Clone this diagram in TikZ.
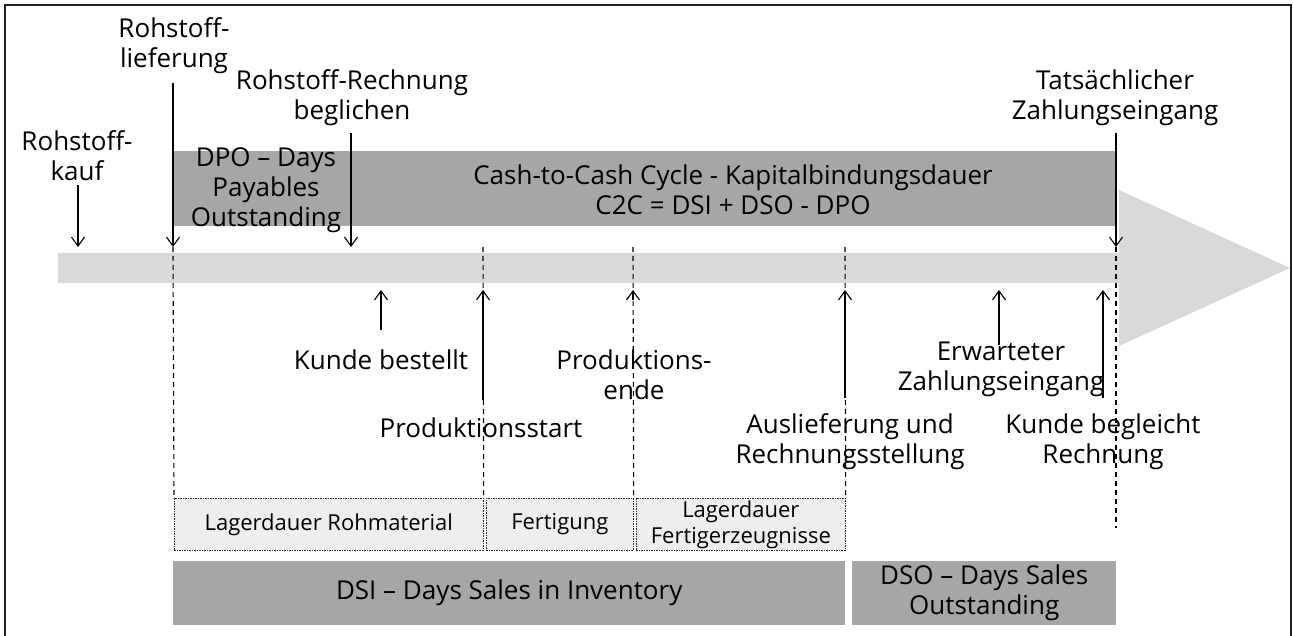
\documentclass[tikz,border=0pt]{standalone}
\usepackage{fontspec}
\setmainfont{Open Sans}
\usetikzlibrary{arrows.meta}

\definecolor{bardark}{HTML}{A6A6A6}
\definecolor{barlight}{HTML}{D9D9D9}
\definecolor{boxfill}{HTML}{EDEFEE}
\definecolor{framecol}{HTML}{222222}

\tikzset{
  lbl/.style={align=center, font=\fontsize{26}{30}\selectfont, inner sep=0pt},
  evt/.style={-{Straight Barb[length=9pt,width=13pt]}, line width=1.1pt},
  guide/.style={dash pattern=on 5pt off 4pt, line width=1.1pt},
  phase/.style={fill=boxfill, draw=black!85, dash pattern=on 1.5pt off 1pt,
    line width=0.7pt, font=\fontsize{22}{26}\selectfont, align=center,
    anchor=north west, inner sep=0pt},
  kpibar/.style={fill=bardark, draw=none, anchor=north west, inner sep=0pt,
    align=center, font=\fontsize{26}{30}\selectfont},
}

\begin{document}
\begin{tikzpicture}[x=1pt,y=-1pt]
\useasboundingbox (0,0) rectangle (1293,636);

% outer frame (open at the bottom edge)
\draw[framecol, line width=2pt] (5,640) -- (5,5) -- (1291,5) -- (1291,640);

% time axis as a broad arrow
\fill[barlight] (58,253) -- (1119,253) -- (1119,190) -- (1290,268)
  -- (1119,346) -- (1119,283) -- (58,283) -- cycle;

% cash-to-cash bar
\node[kpibar, minimum width=943pt, minimum height=75pt] (c2c) at (173,151) {};
\node[lbl] (c2ctext) at (733,190) {Cash-to-Cash Cycle - Kapitalbindungsdauer\\C2C = DSI + DSO - DPO};
\node[lbl] (dpo) at (266,190) {DPO -- Days\\Payables\\Outstanding};

% event points on the axis
\coordinate (pKauf) at (78,247);
\coordinate (pLief) at (173,247);
\coordinate (pBegl) at (351,247);
\coordinate (pTats) at (1116,247);
\coordinate (pBest) at (381,290);
\coordinate (pStart) at (483,290);
\coordinate (pEnde) at (633,290);
\coordinate (pAusl) at (845,290);
\coordinate (pErw) at (999,290);
\coordinate (pKbgl) at (1103,290);

% labels above the axis
\node[lbl] (kauf) at (77,156) {Rohstoff-\\kauf};
\node[lbl] (lief) at (174,46) {Rohstoff-\\lieferung};
\node[lbl] (begl) at (352,98) {Rohstoff-Rechnung\\beglichen};
\node[lbl] (tats) at (1115,98) {Tatsächlicher\\Zahlungseingang};

% labels below the axis
\node[lbl] (best) at (381,360) {Kunde bestellt};
\node[lbl] (ende) at (634,375) {Produktions-\\ende};
\node[lbl] (start) at (481,428) {Produktionsstart};
\node[lbl] (erw) at (1001,369) {Erwarteter\\Zahlungseingang};
\node[lbl] (ausl) at (850,442) {Auslieferung und\\Rechnungsstellung};
\node[lbl] (kbgl) at (1103,442) {Kunde begleicht\\Rechnung};

% phase boxes
\node[phase, minimum width=309pt, minimum height=52pt] (lagerR) at (174,498) {Lagerdauer Rohmaterial};
\node[phase, minimum width=147pt, minimum height=52pt] (fert) at (486,498) {Fertigung};
\node[phase, minimum width=209pt, minimum height=52pt] (lagerF) at (636,498) {Lagerdauer\\Fertigerzeugnisse};

% KPI bars
\node[kpibar, minimum width=672pt, minimum height=64pt] (dsi) at (173,561) {DSI -- Days Sales in Inventory};
\node[kpibar, minimum width=264pt, minimum height=64pt] (dso) at (852,561) {DSO -- Days Sales\\Outstanding};

% dashed guides
\draw[guide] (pLief) -- (lagerR.north west);
\draw[guide] (pStart |- pLief) -- (lagerR.north east);
\draw[guide] (pEnde |- pLief) -- (fert.north east);
\draw[guide] (pAusl |- pLief) -- (lagerF.north east);
\draw[guide] (pTats) -- ++(0,281);

% arrows pointing down onto the axis
\draw[evt] (78,185) -- (pKauf);
\draw[evt] (173,83) -- (pLief);
\draw[evt] (351,133) -- (pBegl);
\draw[evt] (1116,133) -- (pTats);

% arrows pointing up to the axis
\draw[evt] (381,330) -- (pBest);
\draw[evt] (483,400) -- (pStart);
\draw[evt] (633,300) -- (pEnde);
\draw[evt] (845,398) -- (pAusl);
\draw[evt] (999,345) -- (pErw);
\draw[evt] (1103,398) -- (pKbgl);
\end{tikzpicture}
\end{document}
